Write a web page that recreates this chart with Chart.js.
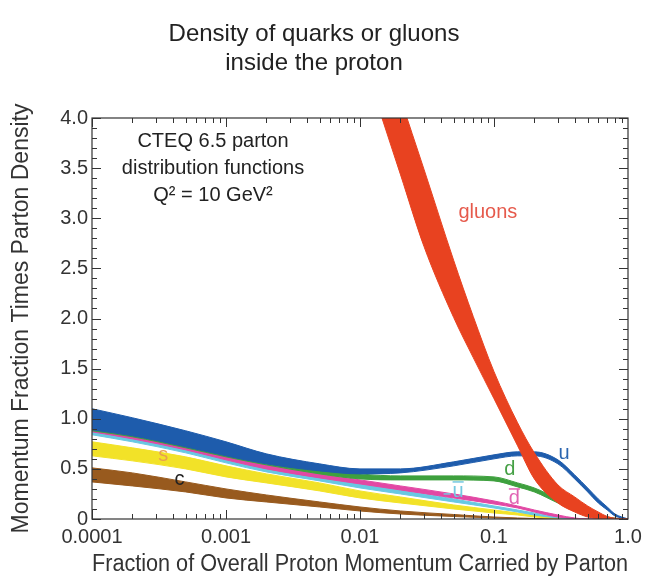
<!DOCTYPE html>
<html>
<head>
<meta charset="utf-8">
<title>Density of quarks or gluons inside the proton</title>
<script src="https://cdn.jsdelivr.net/npm/chart.js@4.4.1/dist/chart.umd.min.js"></script>
<style>
  html, body { margin: 0; padding: 0; background: #fff; }
  canvas { display: block; }
</style>
</head>
<body>
<canvas id="pdfChart" width="654" height="584"></canvas>
<script>
// Momentum fraction x (log axis)
const QUARK_X = [0.0001, 0.0002, 0.0005, 0.001, 0.002, 0.005, 0.01, 0.02, 0.05, 0.1,
                 0.15, 0.2, 0.3, 0.4, 0.5, 0.6, 0.7, 0.8, 1.0];
const GLUON_X = [0.01, 0.015, 0.02, 0.03, 0.05, 0.07, 0.1, 0.15, 0.2, 0.3, 0.4, 0.5,
                 0.6, 0.7, 0.8, 1.0];

// x times density, upper and lower edge of each band
const GLUON_HI = [5.43, 4.71, 4.20, 3.49, 2.58, 2.02, 1.47, 0.96, 0.66, 0.34, 0.22, 0.13, 0.07, 0.025, 0.008, 0];
const GLUON_LO = [4.67, 3.95, 3.44, 2.72, 2.01, 1.61, 1.20, 0.73, 0.40, 0.16, 0.07, 0.02, 0.005, 0, 0, 0];

const U_HI = [1.10, 1.01, 0.88, 0.77, 0.65, 0.55, 0.50, 0.50, 0.57, 0.64, 0.67, 0.67, 0.59, 0.44, 0.31, 0.20, 0.12, 0.05, 0];
const U_LO = [0.89, 0.83, 0.72, 0.63, 0.55, 0.48, 0.45, 0.46, 0.53, 0.60, 0.63, 0.63, 0.55, 0.40, 0.27, 0.16, 0.09, 0.03, 0];

const D_HI = [1.02, 0.95, 0.83, 0.72, 0.62, 0.51, 0.45, 0.43, 0.43, 0.42, 0.36, 0.31, 0.20, 0.12, 0.07, 0.04, 0.02, 0.008, 0];
const D_LO = [0.88, 0.82, 0.71, 0.62, 0.54, 0.45, 0.40, 0.39, 0.39, 0.38, 0.32, 0.27, 0.16, 0.09, 0.05, 0.02, 0.01, 0, 0];

const DBAR_HI = [0.91, 0.84, 0.73, 0.63, 0.54, 0.45, 0.39, 0.33, 0.25, 0.18, 0.13, 0.09, 0.04, 0.01, 0, 0, 0, 0, 0];
const DBAR_LO = [0.87, 0.80, 0.69, 0.59, 0.50, 0.41, 0.35, 0.29, 0.21, 0.15, 0.11, 0.07, 0.02, 0.005, 0, 0, 0, 0, 0];

const UBAR_HI = [0.88, 0.81, 0.70, 0.60, 0.51, 0.42, 0.35, 0.29, 0.20, 0.13, 0.09, 0.06, 0.02, 0.005, 0, 0, 0, 0, 0];
const UBAR_LO = [0.84, 0.77, 0.66, 0.56, 0.47, 0.38, 0.31, 0.25, 0.17, 0.11, 0.07, 0.04, 0.01, 0, 0, 0, 0, 0, 0];

const S_HI = [0.77, 0.71, 0.62, 0.53, 0.45, 0.36, 0.28, 0.22, 0.14, 0.09, 0.06, 0.04, 0.015, 0, 0, 0, 0, 0, 0];
const S_LO = [0.63, 0.58, 0.50, 0.42, 0.36, 0.28, 0.21, 0.16, 0.10, 0.06, 0.04, 0.02, 0.005, 0, 0, 0, 0, 0, 0];

const C_HI = [0.51, 0.46, 0.37, 0.30, 0.24, 0.17, 0.12, 0.08, 0.045, 0.02, 0.01, 0.005, 0, 0, 0, 0, 0, 0, 0];
const C_LO = [0.37, 0.33, 0.27, 0.21, 0.17, 0.12, 0.08, 0.05, 0.025, 0.01, 0.005, 0, 0, 0, 0, 0, 0, 0, 0];

// Axis ticks
const X_TICKS = [0.0001, 0.001, 0.01, 0.1, 1];
const X_TICK_LABELS = ['0.0001', '0.001', '0.01', '0.1', '1.0'];
const Y_TICKS = [0, 0.5, 1, 1.5, 2, 2.5, 3, 3.5, 4];
const Y_TICK_LABELS = ['0', '0.5', '1.0', '1.5', '2.0', '2.5', '3.0', '3.5', '4.0'];

const FONT = "'Liberation Sans', Arial, Helvetica, sans-serif";

// Curve labels, anchored in data units
const CURVE_LABELS = [
    { text: 'gluons', x: 0.09, y: 3.06, color: '#e65a4c' },
    { text: 'u', x: 0.333, y: 0.65, color: '#2c66b0' },
    { text: 'd', x: 0.131, y: 0.49, color: '#45a045' },
    { text: 'd', x: 0.142, y: 0.20, color: '#e064b4', bar: true },
    { text: 'u', x: 0.054, y: 0.27, color: '#74c8e0', bar: true, dash: true },
    { text: 's', x: 0.00034, y: 0.63, color: '#e8a050' },
    { text: 'c', x: 0.00045, y: 0.39, color: '#222222' }
];
const NOTE_LINES = [
    { text: 'CTEQ 6.5 parton', x: 0.0008, y: 3.77 },
    { text: 'distribution functions', x: 0.0008, y: 3.50 },
    { text: 'Q\u00B2 = 10 GeV\u00B2', x: 0.0008, y: 3.23 }
];

function band(xs, lo, hi, color) {
    const common = {
        borderColor: color,
        borderWidth: 1,
        pointRadius: 0,
        cubicInterpolationMode: 'monotone',
        clip: 0
    };
    return [
        Object.assign({}, common, {
            data: xs.map((x, i) => ({ x: x, y: lo[i] })),
            fill: false
        }),
        Object.assign({}, common, {
            data: xs.map((x, i) => ({ x: x, y: hi[i] })),
            fill: '-1',
            backgroundColor: color
        })
    ];
}

const datasets = [].concat(
    band(GLUON_X, GLUON_LO, GLUON_HI, 'rgb(232,66,32)'),
    band(QUARK_X, U_LO, U_HI, 'rgb(30,92,172)'),
    band(QUARK_X, D_LO, D_HI, 'rgb(62,160,62)'),
    band(QUARK_X, DBAR_LO, DBAR_HI, 'rgb(226,72,164)'),
    band(QUARK_X, UBAR_LO, UBAR_HI, 'rgb(104,200,226)'),
    band(QUARK_X, S_LO, S_HI, 'rgb(242,226,40)'),
    band(QUARK_X, C_LO, C_HI, 'rgb(152,90,30)')
);

// Frame with inward ticks on all four sides, plus text labels
const framePlugin = {
    id: 'frame',
    afterDatasetsDraw(chart) {
        const { ctx, chartArea: a, scales } = chart;
        const xs = scales.x, ys = scales.y;
        ctx.save();
        ctx.strokeStyle = '#333';
        ctx.lineWidth = 1.2;
        ctx.strokeRect(a.left, a.top, a.right - a.left, a.bottom - a.top);

        ctx.lineWidth = 1;
        ctx.beginPath();
        for (let e = -4; e < 0; e++) {
            for (let m = 1; m <= 9; m++) {
                const px = Math.round(xs.getPixelForValue(m * Math.pow(10, e))) + 0.5;
                const len = m === 1 ? 9 : 5;
                ctx.moveTo(px, a.bottom); ctx.lineTo(px, a.bottom - len);
                ctx.moveTo(px, a.top); ctx.lineTo(px, a.top + len);
            }
        }
        for (let k = 0; k <= 40; k++) {
            const py = Math.round(ys.getPixelForValue(k / 10)) + 0.5;
            const len = k % 5 === 0 ? 9 : 5;
            ctx.moveTo(a.left, py); ctx.lineTo(a.left + len, py);
            ctx.moveTo(a.right, py); ctx.lineTo(a.right - len, py);
        }
        ctx.stroke();

        ctx.textAlign = 'center';
        ctx.textBaseline = 'middle';
        ctx.font = '20px ' + FONT;
        ctx.fillStyle = '#222';
        NOTE_LINES.forEach(n => {
            ctx.fillText(n.text, xs.getPixelForValue(n.x), ys.getPixelForValue(n.y));
        });

        CURVE_LABELS.forEach(l => {
            const px = xs.getPixelForValue(l.x);
            const py = ys.getPixelForValue(l.y);
            ctx.fillStyle = l.color;
            ctx.strokeStyle = l.color;
            ctx.fillText(l.text, px, py);
            const w = ctx.measureText(l.text).width;
            ctx.lineWidth = 1.5;
            if (l.bar) {
                ctx.beginPath();
                ctx.moveTo(px - w / 2, py - 10);
                ctx.lineTo(px + w / 2, py - 10);
                ctx.stroke();
            }
            if (l.dash) {
                ctx.beginPath();
                ctx.moveTo(px - w / 2 - 9, py + 2);
                ctx.lineTo(px - w / 2 - 2, py + 2);
                ctx.stroke();
            }
        });
        ctx.restore();
    }
};

new Chart(document.getElementById('pdfChart').getContext('2d'), {
    type: 'line',
    data: { datasets: datasets },
    options: {
        responsive: false,
        animation: false,
        devicePixelRatio: 1,
        layout: { padding: { left: 0, right: 26, top: 0, bottom: 0 } },
        scales: {
            x: {
                type: 'logarithmic',
                min: 0.0001,
                max: 1,
                grid: { display: false, drawTicks: false, tickLength: 0 },
                border: { display: false },
                afterBuildTicks: scale => {
                    scale.ticks = X_TICKS.map(v => ({ value: v }));
                },
                afterFit: scale => { scale.height = 65; },
                ticks: {
                    autoSkip: false,
                    maxRotation: 0,
                    padding: 6,
                    color: '#333',
                    font: { family: FONT, size: 20 },
                    callback: (v) => X_TICK_LABELS[X_TICKS.indexOf(v)] ?? ''
                },
                title: {
                    display: true,
                    text: 'Fraction of Overall Proton Momentum Carried by Parton',
                    color: '#333',
                    font: { family: FONT, size: 23 },
                    padding: { top: 0, bottom: 6 }
                }
            },
            y: {
                type: 'linear',
                min: 0,
                max: 4,
                grid: { display: false, drawTicks: false, tickLength: 0 },
                border: { display: false },
                afterBuildTicks: scale => {
                    scale.ticks = Y_TICKS.map(v => ({ value: v }));
                },
                afterFit: scale => { scale.width = 92; },
                ticks: {
                    padding: 4,
                    color: '#333',
                    font: { family: FONT, size: 20 },
                    callback: (v) => Y_TICK_LABELS[Y_TICKS.indexOf(v)] ?? ''
                },
                title: {
                    display: true,
                    text: 'Momentum Fraction Times Parton Density',
                    color: '#333',
                    font: { family: FONT, size: 23 },
                    padding: { top: 8, bottom: 0 }
                }
            }
        },
        plugins: {
            legend: { display: false },
            tooltip: { enabled: false },
            title: {
                display: true,
                text: ['Density of quarks or gluons', 'inside the proton'],
                color: '#222',
                font: { family: FONT, size: 24, weight: 'normal', lineHeight: 1.2 },
                padding: { top: 20, bottom: 40.4 }
            }
        }
    },
    plugins: [framePlugin]
});
</script>
</body>
</html>
